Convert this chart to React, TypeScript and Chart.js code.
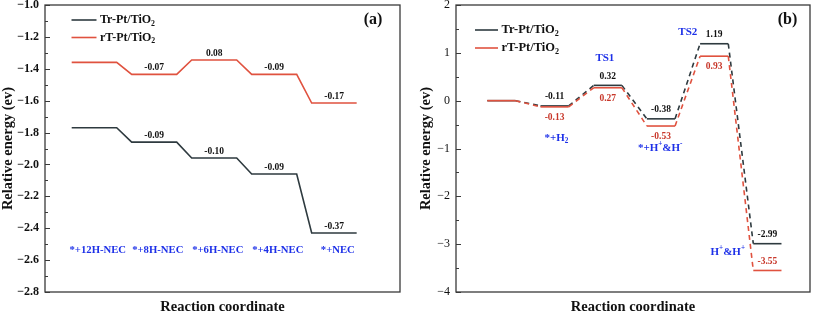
import React, { useEffect, useRef } from "react";
import { Chart, registerables } from "chart.js";
Chart.register(...registerables);

// ---------------- data ----------------
const SERIES_NAMES = ["Tr-Pt/TiO_2", "rT-Pt/TiO_2"];

// panel (a)
const A_STATES = ["*+12H-NEC", "*+8H-NEC", "*+6H-NEC", "*+4H-NEC", "*+NEC"];
const A_TR = [-1.77, -1.86, -1.96, -2.06, -2.43];
const A_RT = [-1.36, -1.435, -1.345, -1.435, -1.615];
const A_TR_LABELS = ["", "-0.09", "-0.10", "-0.09", "-0.37"];
const A_RT_LABELS = ["", "-0.07", "0.08", "-0.09", "-0.17"];

// panel (b)
const B_TR = [0, -0.11, 0.32, -0.38, 1.19, -2.99];
const B_RT = [0, -0.13, 0.27, -0.53, 0.93, -3.55];
const B_TR_LABELS = ["", "-0.11", "0.32", "-0.38", "1.19", "-2.99"];
const B_RT_LABELS = ["", "-0.13", "0.27", "-0.53", "0.93", "-3.55"];
const B_NOTES = ["*+H_2", "TS1", "*+H^+&H^-", "TS2", "H^+&H^+"];

// ---------------- styling / layout ----------------
const FONT = '"Liberation Serif", "Times New Roman", serif';
const BLACK = "#2e3a3f";
const RED = "#e0523f";
const RED_TEXT = "#c8372a";
const BLUE = "#1d30e8";
const FRAME = "#3a3a3a";
const TEXT = "#111111";

// annotation placement for panel (b), in data units
const B_NOTE_POS = [
  { x: 1.3, y: -0.78 },
  { x: 2.21, y: 0.89 },
  { x: 3.25, y: -0.99 },
  { x: 3.77, y: 1.43 },
  { x: 4.52, y: -3.16 },
];

type Part = { t: string; sub?: boolean; sup?: boolean };
function parseRich(s: string): Part[] {
  const parts: Part[] = [];
  let buf = "";
  for (let i = 0; i < s.length; i++) {
    const c = s[i];
    if ((c === "_" || c === "^") && i + 1 < s.length) {
      if (buf) parts.push({ t: buf });
      buf = "";
      parts.push(c === "_" ? { t: s[i + 1], sub: true } : { t: s[i + 1], sup: true });
      i++;
    } else buf += c;
  }
  if (buf) parts.push({ t: buf });
  return parts;
}

function drawRich(
  ctx: CanvasRenderingContext2D,
  s: string,
  x: number,
  y: number,
  size: number,
  color: string,
  align: "left" | "center"
) {
  const parts = parseRich(s);
  const main = `bold ${size}px ${FONT}`;
  const small = `bold ${Math.round(size * 0.65 * 10) / 10}px ${FONT}`;
  let w = 0;
  for (const p of parts) {
    ctx.font = p.sub || p.sup ? small : main;
    w += ctx.measureText(p.t).width;
  }
  let cx = align === "center" ? x - w / 2 : x;
  ctx.textAlign = "left";
  ctx.textBaseline = "middle";
  ctx.fillStyle = color;
  for (const p of parts) {
    ctx.font = p.sub || p.sup ? small : main;
    const dy = p.sub ? size * 0.3 : p.sup ? -size * 0.35 : 0;
    ctx.fillText(p.t, cx, y + dy);
    cx += ctx.measureText(p.t).width;
  }
}

type Spec = {
  tag: string;
  tr: number[];
  rt: number[];
  trL: string[];
  rtL: string[];
  levelW: number;
  xMin: number;
  xMax: number;
  yMin: number;
  yMax: number;
  yStep: number;
  decimals: number;
  tickBold: boolean;
  dashed: boolean;
  axisW: number;
  padRight: number;
  legendX: number[];
  legendY: number[];
  legendSize: number;
  tagX: number;
  yTitleX: number;
  valueSize: number;
  mode: "a" | "b";
  width: number;
};

const SPEC_A: Spec = {
  tag: "(a)",
  tr: A_TR,
  rt: A_RT,
  trL: A_TR_LABELS,
  rtL: A_RT_LABELS,
  levelW: 0.75,
  xMin: -0.445,
  xMax: 5.472,
  yMin: -2.8,
  yMax: -1.0,
  yStep: 0.2,
  decimals: 1,
  tickBold: true,
  dashed: false,
  axisW: 45,
  padRight: 5,
  legendX: [71.5, 96.5, 100],
  legendY: [20, 37.5],
  legendSize: 12,
  tagX: 373,
  yTitleX: 8.5,
  valueSize: 9.5,
  mode: "a",
  width: 405,
};

const SPEC_B: Spec = {
  tag: "(b)",
  tr: B_TR,
  rt: B_RT,
  trL: B_TR_LABELS,
  rtL: B_RT_LABELS,
  levelW: 0.53,
  xMin: -0.588,
  xMax: 6.066,
  yMin: -4,
  yMax: 2,
  yStep: 1,
  decimals: 0,
  tickBold: false,
  dashed: true,
  axisW: 51,
  padRight: 3,
  legendX: [70, 93, 96.5],
  legendY: [30, 48],
  legendSize: 12.5,
  tagX: 382.5,
  yTitleX: 21.5,
  valueSize: 9.5,
  mode: "b",
  width: 408,
};

const levelPoints = (vals: number[], w: number) =>
  vals.flatMap((v, i) => [
    { x: i, y: v },
    { x: i + w, y: v },
  ]);

function fmtTick(v: number, dec: number) {
  const s = Number(v).toFixed(dec);
  if (Number(s) === 0) return (0).toFixed(dec);
  return s.replace("-", "\u2212");
}

function makeConfig(spec: Spec): any {
  const dashSeg = spec.dashed
    ? { borderDash: (c: any) => (c.p0DataIndex % 2 === 1 ? [5, 4] : undefined) }
    : undefined;
  const overlay = {
    id: "overlay_" + spec.mode,
    afterDraw(chart: any) {
      const ctx: CanvasRenderingContext2D = chart.ctx;
      const { left, right, top, bottom } = chart.chartArea;
      const xs = chart.scales.x;
      const ys = chart.scales.y;
      ctx.save();
      // frame
      ctx.strokeStyle = FRAME;
      ctx.lineWidth = 1.3;
      ctx.strokeRect(left, top, right - left, bottom - top);
      // inward ticks
      const ticks = ys.ticks.map((t: any) => t.value);
      ctx.lineWidth = 1;
      ctx.beginPath();
      ticks.forEach((v: number, i: number) => {
        const y = Math.round(ys.getPixelForValue(v)) + 0.5;
        ctx.moveTo(left, y);
        ctx.lineTo(left + 5, y);
        if (i < ticks.length - 1) {
          const ym = Math.round(ys.getPixelForValue((v + ticks[i + 1]) / 2)) + 0.5;
          ctx.moveTo(left, ym);
          ctx.lineTo(left + 3, ym);
        }
      });
      ctx.stroke();

      // value labels
      const w = spec.levelW;
      ctx.font = `bold ${spec.valueSize}px ${FONT}`;
      ctx.textAlign = "center";
      const drawLabels = (vals: number[], labels: string[], isRed: boolean) => {
        labels.forEach((lab, i) => {
          if (!lab) return;
          const x = xs.getPixelForValue(i + w / 2);
          const y = ys.getPixelForValue(vals[i]);
          if (spec.mode === "a") {
            ctx.fillStyle = TEXT;
            ctx.textBaseline = "middle";
            ctx.fillText(lab, x, y - 6.5);
          } else {
            ctx.textBaseline = "middle";
            if (isRed) {
              ctx.fillStyle = RED_TEXT;
              const last = i === labels.length - 1;
              ctx.fillText(lab, x, last ? y - 8.5 : y + 10.5);
            } else {
              ctx.fillStyle = TEXT;
              ctx.fillText(lab, x, y - 9);
            }
          }
        });
      };
      drawLabels(spec.tr, spec.trL, false);
      drawLabels(spec.rt, spec.rtL, true);

      // state annotations
      if (spec.mode === "a") {
        const yy = ys.getPixelForValue(-2.54);
        A_STATES.forEach((s, i) => {
          drawRich(ctx, s, xs.getPixelForValue(i + w / 2 + 0.06), yy, 10.7, BLUE, "center");
        });
      } else {
        B_NOTES.forEach((s, i) => {
          const p = B_NOTE_POS[i];
          drawRich(ctx, s, xs.getPixelForValue(p.x), ys.getPixelForValue(p.y), 11, BLUE, "center");
        });
      }

      // legend
      const colors = [BLACK, RED];
      SERIES_NAMES.forEach((name, k) => {
        const y = spec.legendY[k];
        ctx.strokeStyle = colors[k];
        ctx.lineWidth = 1.6;
        ctx.setLineDash([]);
        ctx.beginPath();
        ctx.moveTo(spec.legendX[0], y);
        ctx.lineTo(spec.legendX[1], y);
        ctx.stroke();
        drawRich(ctx, name, spec.legendX[2], y, spec.legendSize, TEXT, "left");
      });

      // panel tag
      ctx.font = `bold 16px ${FONT}`;
      ctx.fillStyle = TEXT;
      ctx.textAlign = "center";
      ctx.textBaseline = "middle";
      ctx.fillText(spec.tag, spec.tagX, 20);

      // axis titles
      ctx.font = `bold 14.5px ${FONT}`;
      ctx.fillText("Reaction coordinate", (left + right) / 2, 307.5);
      ctx.save();
      ctx.translate(spec.yTitleX, (top + bottom) / 2);
      ctx.rotate(-Math.PI / 2);
      ctx.fillText("Relative energy (ev)", 0, 0);
      ctx.restore();

      ctx.restore();
    },
  };

  return {
    type: "line",
    data: {
      datasets: [
        {
          label: "rT-Pt/TiO2",
          data: levelPoints(spec.rt, spec.levelW),
          borderColor: RED,
          borderWidth: 1.6,
          pointRadius: 0,
          fill: false,
          tension: 0,
          segment: dashSeg,
        },
        {
          label: "Tr-Pt/TiO2",
          data: levelPoints(spec.tr, spec.levelW),
          borderColor: BLACK,
          borderWidth: 1.6,
          pointRadius: 0,
          fill: false,
          tension: 0,
          segment: dashSeg,
        },
      ],
    },
    options: {
      animation: false,
      responsive: false,
      layout: { padding: { left: 0, top: 5, right: spec.padRight, bottom: 23 } },
      plugins: {
        legend: { display: false },
        tooltip: { enabled: false },
        title: { display: false },
      },
      scales: {
        x: { type: "linear", min: spec.xMin, max: spec.xMax, display: false },
        y: {
          type: "linear",
          min: spec.yMin,
          max: spec.yMax,
          grid: { display: false, drawTicks: false },
          border: { display: false },
          ticks: {
            stepSize: spec.yStep,
            padding: 6,
            color: TEXT,
            autoSkip: false,
            font: { family: FONT, size: 12, weight: spec.tickBold ? "bold" : "normal" },
            callback: (v: any) => fmtTick(Number(v), spec.decimals),
          },
          afterFit: (s: any) => {
            s.width = spec.axisW;
            s.paddingTop = 0;
            s.paddingBottom = 0;
          },
        },
      },
    },
    plugins: [overlay],
  };
}

function Panel({ spec, left }: { spec: Spec; left: number }) {
  const ref = useRef<HTMLCanvasElement>(null);
  useEffect(() => {
    const chart = new Chart(ref.current as HTMLCanvasElement, makeConfig(spec));
    return () => chart.destroy();
  }, [spec]);
  return (
    <canvas
      ref={ref}
      width={spec.width}
      height={315}
      style={{ position: "absolute", left, top: 0, width: spec.width, height: 315 }}
    />
  );
}

export default function App() {
  return (
    <div
      style={{
        position: "fixed",
        left: 0,
        top: 0,
        width: 813,
        height: 315,
        background: "#ffffff",
        overflow: "hidden",
      }}
    >
      <Panel spec={SPEC_A} left={0} />
      <Panel spec={SPEC_B} left={405} />
    </div>
  );
}
